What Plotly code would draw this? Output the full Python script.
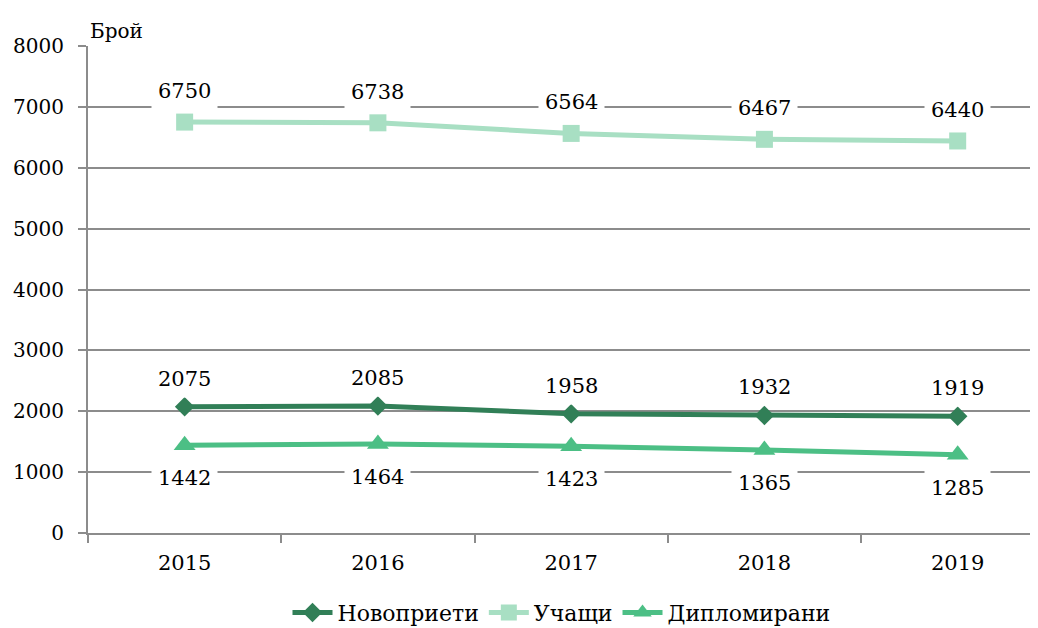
import plotly.graph_objects as go

years = ["2015", "2016", "2017", "2018", "2019"]
novoprieti = [2075, 2085, 1958, 1932, 1919]
uchashti = [6750, 6738, 6564, 6467, 6440]
diplomirani = [1442, 1464, 1423, 1365, 1285]

series = [
    ("Новоприети", novoprieti, "#317F57", "diamond", 15, 28),
    ("Учащи", uchashti, "#A8DFC3", "square", 17, 31),
    ("Дипломирани", diplomirani, "#4CBF85", "triangle-up", 19, -33),
]

font = "DejaVu Serif"
fs = 21
fig = go.Figure()
for name, vals, color, sym, msize, shift in series:
    fig.add_trace(go.Scatter(
        x=years, y=vals, name=name, mode="lines+markers",
        line=dict(color=color, width=5),
        marker=dict(symbol=sym, size=msize, color=color),
    ))
    for i, v in enumerate(vals):
        fig.add_annotation(x=i, y=v, text=str(v), showarrow=False, yshift=shift,
                           bgcolor="white", font=dict(family=font, size=fs, color="black"),
                           borderpad=6)

fig.add_annotation(xref="paper", yref="paper", x=0, y=1, xanchor="left", yanchor="bottom",
                   text="Брой", showarrow=False, yshift=1,
                   font=dict(family=font, size=20, color="black"))

fig.update_layout(
    width=1038, height=628,
    margin=dict(l=80, r=11, t=38, b=103),
    plot_bgcolor="white", paper_bgcolor="white",
    font=dict(family=font, size=fs, color="black"),
    showlegend=True,
    legend=dict(orientation="h", x=0.5, xanchor="center", yref="container", y=0.037,
                yanchor="middle", font=dict(family=font, size=22), itemwidth=40,
                traceorder="normal"),
    xaxis=dict(type="category", range=[-0.5, 4.4], showgrid=False, automargin=False,
               showline=True, linecolor="#8c8c8c", linewidth=2,
               ticks="outside", tickson="boundaries", ticklen=8, tickcolor="#8c8c8c", tickwidth=2,
               ticklabelstandoff=10,
               tickfont=dict(family=font, size=fs)),
    yaxis=dict(range=[0, 8000], dtick=1000, showgrid=True, gridcolor="#8c8c8c", gridwidth=2,
               showline=True, linecolor="#8c8c8c", linewidth=2, zeroline=False, automargin=False,
               ticks="outside", ticklen=8, tickcolor="#8c8c8c", tickwidth=2,
               ticklabelstandoff=10,
               tickfont=dict(family=font, size=20)),
)
fig.write_html("out.html")
